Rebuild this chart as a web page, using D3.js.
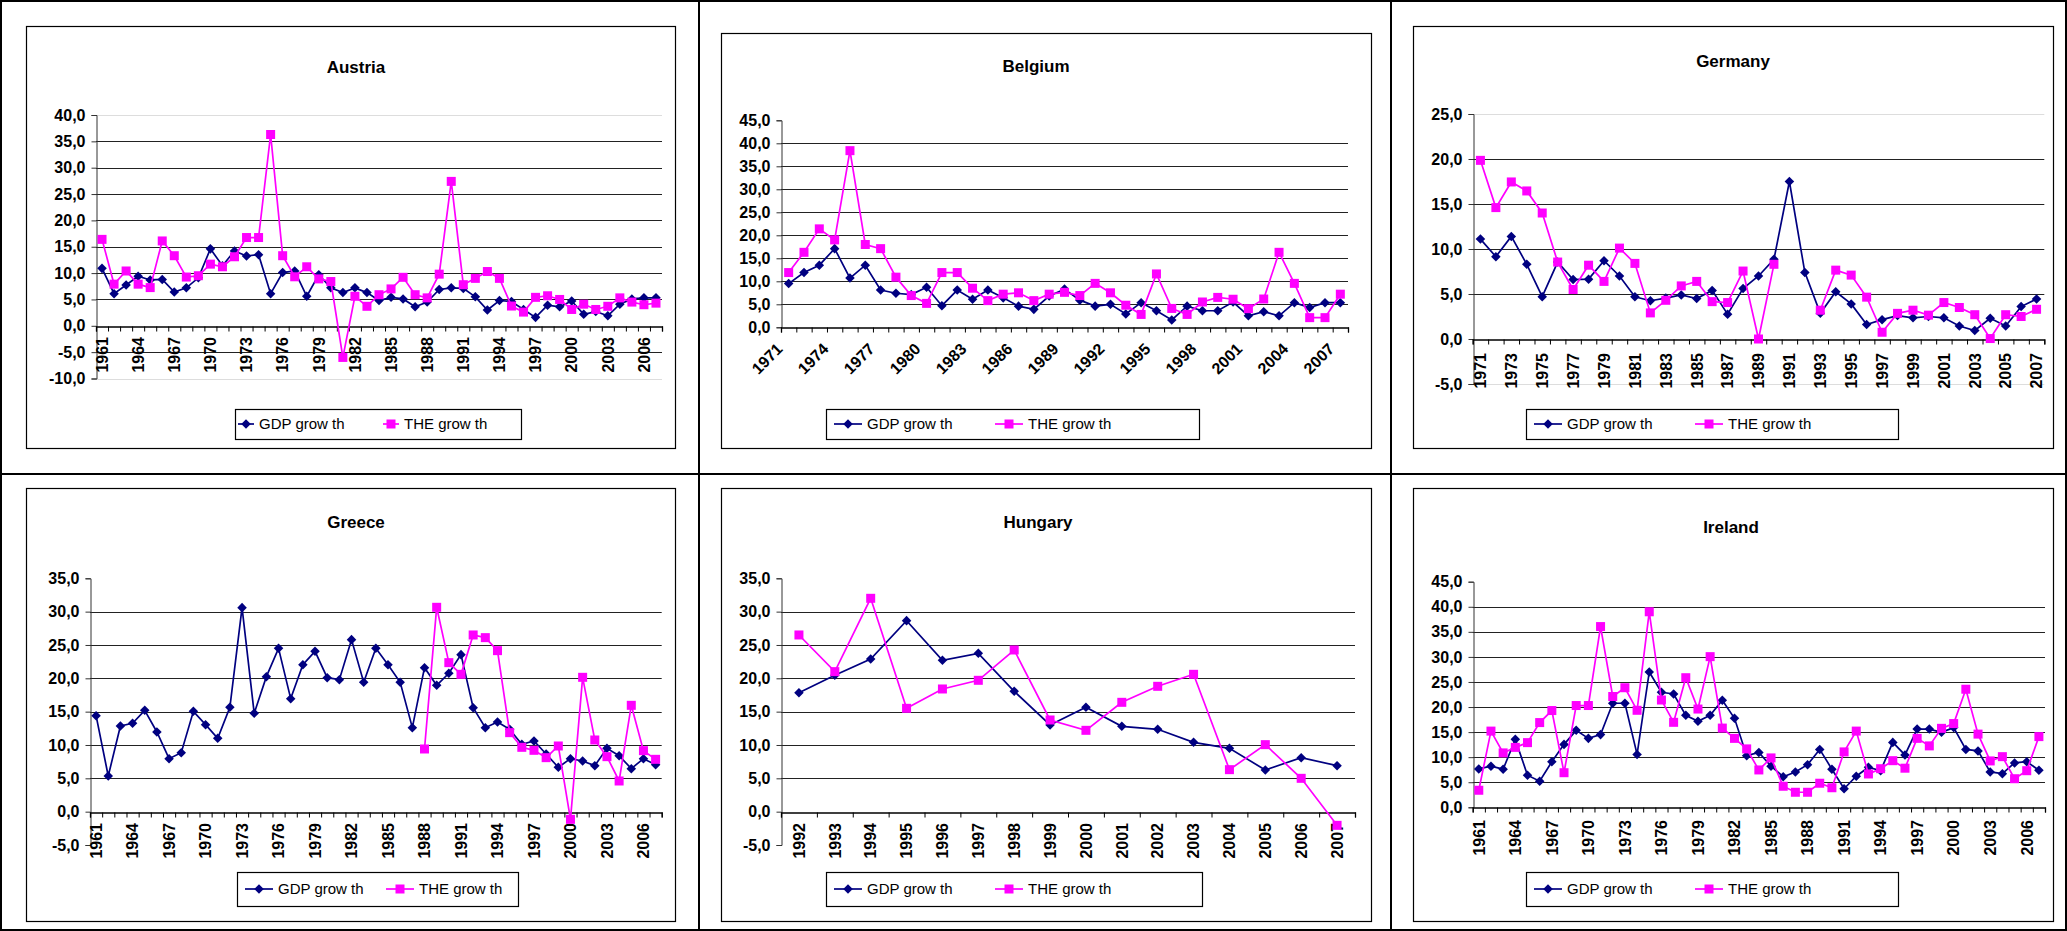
<!DOCTYPE html>
<html>
<head>
<meta charset="utf-8">
<script src="https://cdn.jsdelivr.net/npm/d3@7"></script>
<style>
  body { margin: 0; background: #fff; }
  svg { display: block; }
  text { font-family: Arial, "Liberation Sans", sans-serif; }
</style>
</head>
<body>
<script>
// Canvas size
const WIDTH = 2067;
const HEIGHT = 931;
const NAVY = '#000080';
const PINK = '#FF00FF';

// Categories
const years1961 = [1961, 1962, 1963, 1964, 1965, 1966, 1967, 1968, 1969, 1970,
  1971, 1972, 1973, 1974, 1975, 1976, 1977, 1978, 1979, 1980,
  1981, 1982, 1983, 1984, 1985, 1986, 1987, 1988, 1989, 1990,
  1991, 1992, 1993, 1994, 1995, 1996, 1997, 1998, 1999, 2000,
  2001, 2002, 2003, 2004, 2005, 2006, 2007];
const years1971 = [1971, 1972, 1973, 1974, 1975, 1976, 1977, 1978, 1979, 1980,
  1981, 1982, 1983, 1984, 1985, 1986, 1987, 1988, 1989, 1990,
  1991, 1992, 1993, 1994, 1995, 1996, 1997, 1998, 1999, 2000,
  2001, 2002, 2003, 2004, 2005, 2006, 2007];
const years1992 = [1992, 1993, 1994, 1995, 1996, 1997, 1998, 1999,
  2000, 2001, 2002, 2003, 2004, 2005, 2006, 2007];

// Series values (growth, %)
const austriaGdp = [10.9, 6.1, 7.75, 9.4, 8.7, 8.8, 6.4, 7.2, 9.1, 14.6,
  11.4, 14.2, 13.25, 13.5, 6.1, 10.1, 10.4, 5.6, 9.7, 7.2,
  6.3, 7.2, 6.3, 4.8, 5.4, 5.1, 3.6, 4.5, 6.9, 7.2,
  7.1, 5.5, 3.0, 4.8, 4.6, 3.1, 1.6, 3.9, 3.6, 4.7,
  2.2, 2.7, 1.9, 4.1, 5.1, 5.3, 5.3];
const austriaThe = [16.4, 7.9, 10.4, 7.9, 7.25, 16.1, 13.3, 9.25, 9.5, 11.7,
  11.2, 13.1, 16.75, 16.75, 36.3, 13.3, 9.3, 11.2, 8.9, 8.4,
  -6.0, 5.6, 3.7, 5.9, 7.0, 9.2, 5.9, 5.3, 9.8, 27.4,
  7.8, 9.0, 10.3, 9.0, 3.75, 2.6, 5.4, 5.7, 5.0, 3.1,
  4.1, 3.1, 3.7, 5.3, 4.5, 4.0, 4.3];

const belgiumGdp = [9.5, 11.9, 13.5, 17.1, 10.7, 13.5, 8.1, 7.4, 7.1, 8.7,
  4.7, 8.1, 6.1, 8.1, 6.4, 4.6, 3.9, 6.8, 8.3, 5.9,
  4.6, 5.0, 2.9, 5.35, 3.6, 1.6, 4.6, 3.6, 3.6, 5.5,
  2.5, 3.4, 2.5, 5.35, 4.3, 5.35, 5.35];
const belgiumThe = [11.9, 16.3, 21.4, 19.0, 38.4, 18.0, 17.1, 10.9, 6.9, 5.2,
  11.9, 11.9, 8.5, 5.8, 7.2, 7.5, 5.8, 7.2, 7.6, 6.9,
  9.55, 7.5, 4.8, 2.8, 11.6, 4.1, 2.8, 5.5, 6.5, 6.1,
  4.05, 6.15, 16.3, 9.55, 2.1, 2.1, 7.2];

const germanyGdp = [11.1, 9.15, 11.4, 8.3, 4.7, 8.55, 6.6, 6.65, 8.7, 7.0,
  4.7, 4.25, 4.55, 4.9, 4.5, 5.4, 2.75, 5.6, 7.0, 8.85,
  17.5, 7.4, 2.85, 5.25, 3.9, 1.6, 2.15, 2.6, 2.35, 2.5,
  2.35, 1.45, 0.95, 2.3, 1.45, 3.6, 4.45];
const germanyThe = [19.85, 14.6, 17.45, 16.45, 14.0, 8.55, 5.5, 8.2, 6.4, 10.1,
  8.4, 2.9, 4.3, 5.9, 6.4, 4.15, 4.05, 7.55, 0.0, 8.3,
  null, null, 3.2, 7.65, 7.1, 4.65, 0.75, 2.85, 3.2, 2.65,
  4.05, 3.5, 2.7, 0.05, 2.7, 2.5, 3.3];

const greeceGdp = [14.4, 5.35, 12.85, 13.25, 15.2, 11.95, 7.95, 8.85, 15.05, 13.05,
  11.0, 15.65, 30.6, 14.75, 20.25, 24.5, 16.95, 22.05, 24.05, 20.1,
  19.8, 25.8, 19.4, 24.5, 22.05, 19.4, 12.6, 21.6, 18.95, 20.75,
  23.55, 15.6, 12.6, 13.45, 12.35, 10.1, 10.6, 8.65, 6.65, 7.95,
  7.6, 6.9, 9.5, 8.4, 6.45, 7.95, 7.05];
const greeceThe = [null, null, null, null, null, null, null, null, null, null,
  null, null, null, null, null, null, null, null, null, null,
  null, null, null, null, null, null, null, 9.4, 30.65, 22.35,
  20.6, 26.5, 26.1, 24.15, 11.85, 9.65, 9.2, 8.1, 9.85, -1.15,
  20.15, 10.75, 8.25, 4.6, 15.95, 9.15, 7.85];

const hungaryGdp = [17.85, 20.45, 22.9, 28.65, 22.7, 23.75, 18.05, 13.0,
  15.65, 12.8, 12.35, 10.4, 9.5, 6.25, 8.1, 6.9];
const hungaryThe = [26.5, 21.0, 32.0, 15.5, 18.4, 19.7, 24.25, 13.75,
  12.2, 16.4, 18.8, 20.6, 6.3, 10.05, 5.0, -2.05];

const irelandGdp = [7.65, 8.2, 7.6, 13.55, 6.4, 5.2, 9.1, 12.55, 15.35, 13.75,
  14.5, 20.75, 20.75, 10.55, 27.0, 22.95, 22.6, 18.35, 17.15, 18.35,
  21.35, 17.75, 10.3, 10.95, 8.2, 6.1, 7.05, 8.5, 11.55, 7.6,
  3.7, 6.2, 8.0, 7.3, 12.95, 10.45, 15.6, 15.6, 14.95, 15.9,
  11.55, 11.25, 7.05, 6.7, 8.85, 9.1, 7.4];
const irelandThe = [3.4, 15.2, 10.85, 11.95, 12.9, 16.9, 19.3, 6.9, 20.3, 20.3,
  36.05, 22.1, 23.85, 19.35, 39.0, 21.4, 16.95, 25.85, 19.6, 30.05,
  15.8, 13.75, 11.65, 7.45, 9.85, 4.2, 3.0, 3.0, 4.8, 3.9,
  11.05, 15.2, 6.65, 7.7, 9.3, 7.8, 13.75, 12.25, 15.75, 16.7,
  23.55, 14.6, 9.25, 10.1, 5.7, 7.3, 14.1];

// Tick labels
const ticksAustria = [-10, -5, 0, 5, 10, 15, 20, 25, 30, 35, 40];
const ticksBelgium = [0, 5, 10, 15, 20, 25, 30, 35, 40, 45];
const ticksGermany = [-5, 0, 5, 10, 15, 20, 25];
const ticksGreece = [-5, 0, 5, 10, 15, 20, 25, 30, 35];
const ticksHungary = [-5, 0, 5, 10, 15, 20, 25, 30, 35];
const ticksIreland = [0, 5, 10, 15, 20, 25, 30, 35, 40, 45];
const seriesNames = ['GDP grow th', 'THE grow th'];

// Layout of the six charts (legend: x, y, w, h, text1 x, text2 x, sample length)
const panels = [
  { title: 'Austria', years: years1961, gdp: austriaGdp, the: austriaThe, ticks: ticksAustria,
    frame: [26, 26, 649, 422], plot: [96, 662, 115, 378.5], titleXY: [356, 73],
    every: 3, rot: -90, labelTop: 337, faint: true, legend: [235, 409, 286, 30, 259, 404, 16] },
  { title: 'Belgium', years: years1971, gdp: belgiumGdp, the: belgiumThe, ticks: ticksBelgium,
    frame: [721, 33, 650, 415], plot: [781, 1348, 120.3, 327.3], titleXY: [1036, 72],
    every: 3, rot: -45, labelTop: 350, faint: false, legend: [826, 409, 373, 30, 867, 1028, 28] },
  { title: 'Germany', years: years1971, gdp: germanyGdp, the: germanyThe, ticks: ticksGermany,
    frame: [1413, 26, 640, 422], plot: [1472.7, 2044.3, 114, 384], titleXY: [1733, 67],
    every: 2, rot: -90, labelTop: 353, faint: true, legend: [1526, 409, 372, 30, 1567, 1728, 28] },
  { title: 'Greece', years: years1961, gdp: greeceGdp, the: greeceThe, ticks: ticksGreece,
    frame: [26, 488, 649, 433], plot: [90, 661.7, 578.3, 845], titleXY: [356, 528],
    every: 3, rot: -90, labelTop: 823, faint: false, legend: [237, 872, 281, 34, 278, 419, 28] },
  { title: 'Hungary', years: years1992, gdp: hungaryGdp, the: hungaryThe, ticks: ticksHungary,
    frame: [721, 488, 650, 433], plot: [781, 1355, 578.3, 845], titleXY: [1038, 528],
    every: 1, rot: -90, labelTop: 823, faint: false, legend: [826, 872, 376, 34, 867, 1028, 28] },
  { title: 'Ireland', years: years1961, gdp: irelandGdp, the: irelandThe, ticks: ticksIreland,
    frame: [1413, 488, 640, 433], plot: [1472.7, 2045, 581.7, 807.3], titleXY: [1731, 533],
    every: 3, rot: -90, labelTop: 820, faint: false, legend: [1526, 872, 372, 34, 1567, 1728, 28] }
];

function initCanvas() {
  const svg = d3.select('body')
    .append('svg')
    .attr('width', WIDTH)
    .attr('height', HEIGHT);
  svg.append('rect').attr('width', WIDTH).attr('height', HEIGHT).attr('fill', '#fff');
  return svg;
}

// Table lines around the six charts
function drawTable(svg) {
  const g = svg.append('g').attr('stroke', '#000').attr('stroke-width', 2);
  g.append('rect').attr('x', 1).attr('y', 1).attr('width', WIDTH - 2).attr('height', HEIGHT - 2).attr('fill', 'none');
  g.append('line').attr('x1', 699).attr('x2', 699).attr('y1', 0).attr('y2', HEIGHT);
  g.append('line').attr('x1', 1391).attr('x2', 1391).attr('y1', 0).attr('y2', HEIGHT);
  g.append('line').attr('x1', 0).attr('x2', WIDTH).attr('y1', 474).attr('y2', 474);
}

const fmt = d => d3.format('.1f')(d).replace('.', ',').replace('−', '-');

function drawMarker(sel, shape, x, y) {
  if (shape === 'diamond') {
    sel.append('path')
      .attr('d', d3.symbol().type(d3.symbolDiamond2).size(58))
      .attr('transform', `translate(${x},${y})`)
      .attr('fill', NAVY);
  } else {
    sel.append('rect')
      .attr('x', x - 4.5).attr('y', y - 4.5).attr('width', 9).attr('height', 9)
      .attr('fill', PINK);
  }
}

function drawPanel(svg, p) {
  const g = svg.append('g');
  const [left, right, top, bottom] = p.plot;

  g.append('rect')
    .attr('x', p.frame[0] + 0.5).attr('y', p.frame[1] + 0.5)
    .attr('width', p.frame[2]).attr('height', p.frame[3])
    .attr('fill', 'none').attr('stroke', '#000').attr('stroke-width', 1.2);

  g.append('text')
    .attr('x', p.titleXY[0]).attr('y', p.titleXY[1])
    .attr('text-anchor', 'middle')
    .attr('font-size', 17).attr('font-weight', 'bold')
    .text(p.title);

  const x = d3.scaleBand().domain(p.years).range([left, right]);
  const xEdge = d3.scaleLinear().domain([0, p.years.length]).range([left, right]);
  const y = d3.scaleLinear().domain(d3.extent(p.ticks)).range([bottom, top]);
  const yMax = d3.max(p.ticks), yMin = d3.min(p.ticks);

  // gridlines
  g.append('g').selectAll('line')
    .data(p.ticks.filter(t => t !== yMax && !(t === yMin && yMin < 0) && t !== 0))
    .join('line')
    .attr('x1', left).attr('x2', right)
    .attr('y1', d => Math.round(y(d)) + 0.5).attr('y2', d => Math.round(y(d)) + 0.5)
    .attr('stroke', '#222').attr('stroke-width', 1);
  if (p.faint) {
    [yMax, yMin].forEach(t => {
      g.append('line')
        .attr('x1', left).attr('x2', right)
        .attr('y1', Math.round(y(t)) + 0.5).attr('y2', Math.round(y(t)) + 0.5)
        .attr('stroke', '#ddd');
    });
  }

  // y axis
  const yAxis = g.append('g')
    .attr('transform', `translate(${Math.round(left) + 0.5},0)`)
    .call(d3.axisLeft(y).tickValues(p.ticks).tickSize(5).tickPadding(6).tickFormat(fmt));
  yAxis.select('.domain').attr('stroke', '#333');
  yAxis.selectAll('.tick line').attr('stroke', '#333');
  yAxis.selectAll('text')
    .attr('font-size', 16).attr('font-weight', 'bold').attr('fill', '#000')
    .attr('font-family', 'Arial, "Liberation Sans", sans-serif');

  // x axis along zero
  const y0 = Math.round(y(0)) + 0.5;
  const xAxis = g.append('g')
    .attr('transform', `translate(0,${y0})`)
    .call(d3.axisBottom(xEdge).tickValues(d3.range(p.years.length + 1)).tickSize(5).tickFormat(''));
  xAxis.select('.domain').attr('stroke', '#000').attr('stroke-width', 1.3);
  xAxis.selectAll('.tick line').attr('stroke', '#000');

  // category labels
  const labelled = p.years.filter((d, i) => i % p.every === 0);
  const lab = g.append('g').selectAll('text')
    .data(labelled).join('text')
    .attr('font-size', 16).attr('font-weight', 'bold')
    .attr('text-anchor', 'end')
    .text(d => d);
  if (p.rot === -90) {
    lab.attr('transform', d => `translate(${x(d) + x.bandwidth() / 2 + 5.8},${p.labelTop}) rotate(-90)`);
  } else {
    lab.attr('transform', d => `translate(${x(d) + x.bandwidth() / 2 - 5},${p.labelTop}) rotate(-45)`);
  }

  // series: GDP first, THE drawn over it
  const line = d3.line()
    .defined(d => d.v !== null)
    .x(d => x(d.year) + x.bandwidth() / 2)
    .y(d => y(d.v));
  const series = [
    { vals: p.gdp, color: NAVY, shape: 'diamond' },
    { vals: p.the, color: PINK, shape: 'square' }
  ];
  series.forEach(s => {
    const pts = p.years.map((year, i) => ({ year, v: s.vals[i] }));
    g.append('path').datum(pts)
      .attr('d', line).attr('fill', 'none')
      .attr('stroke', s.color).attr('stroke-width', 1.7);
    const mk = g.append('g');
    pts.filter(d => d.v !== null).forEach(d => {
      drawMarker(mk, s.shape, x(d.year) + x.bandwidth() / 2, y(d.v));
    });
  });

  // legend
  const [lx, ly, lw, lh, t1, t2, len] = p.legend;
  const lg = g.append('g');
  lg.append('rect')
    .attr('x', lx + 0.5).attr('y', ly + 0.5).attr('width', lw).attr('height', lh)
    .attr('fill', '#fff').attr('stroke', '#000').attr('stroke-width', 1.2);
  const cy = ly + lh / 2;
  [{ c: NAVY, shape: 'diamond', name: seriesNames[0], tx: t1 },
   { c: PINK, shape: 'square', name: seriesNames[1], tx: t2 }].forEach(it => {
    const x2 = it.tx - 5, x1 = x2 - len;
    lg.append('line')
      .attr('x1', x1).attr('x2', x2).attr('y1', cy).attr('y2', cy)
      .attr('stroke', it.c).attr('stroke-width', 1.7);
    drawMarker(lg, it.shape, (x1 + x2) / 2, cy);
    lg.append('text')
      .attr('x', it.tx).attr('y', cy + 5)
      .attr('font-size', 15)
      .text(it.name);
  });
}

function main() {
  const svg = initCanvas();
  drawTable(svg);
  panels.forEach(p => drawPanel(svg, p));
}

main();
</script>
</body>
</html>
